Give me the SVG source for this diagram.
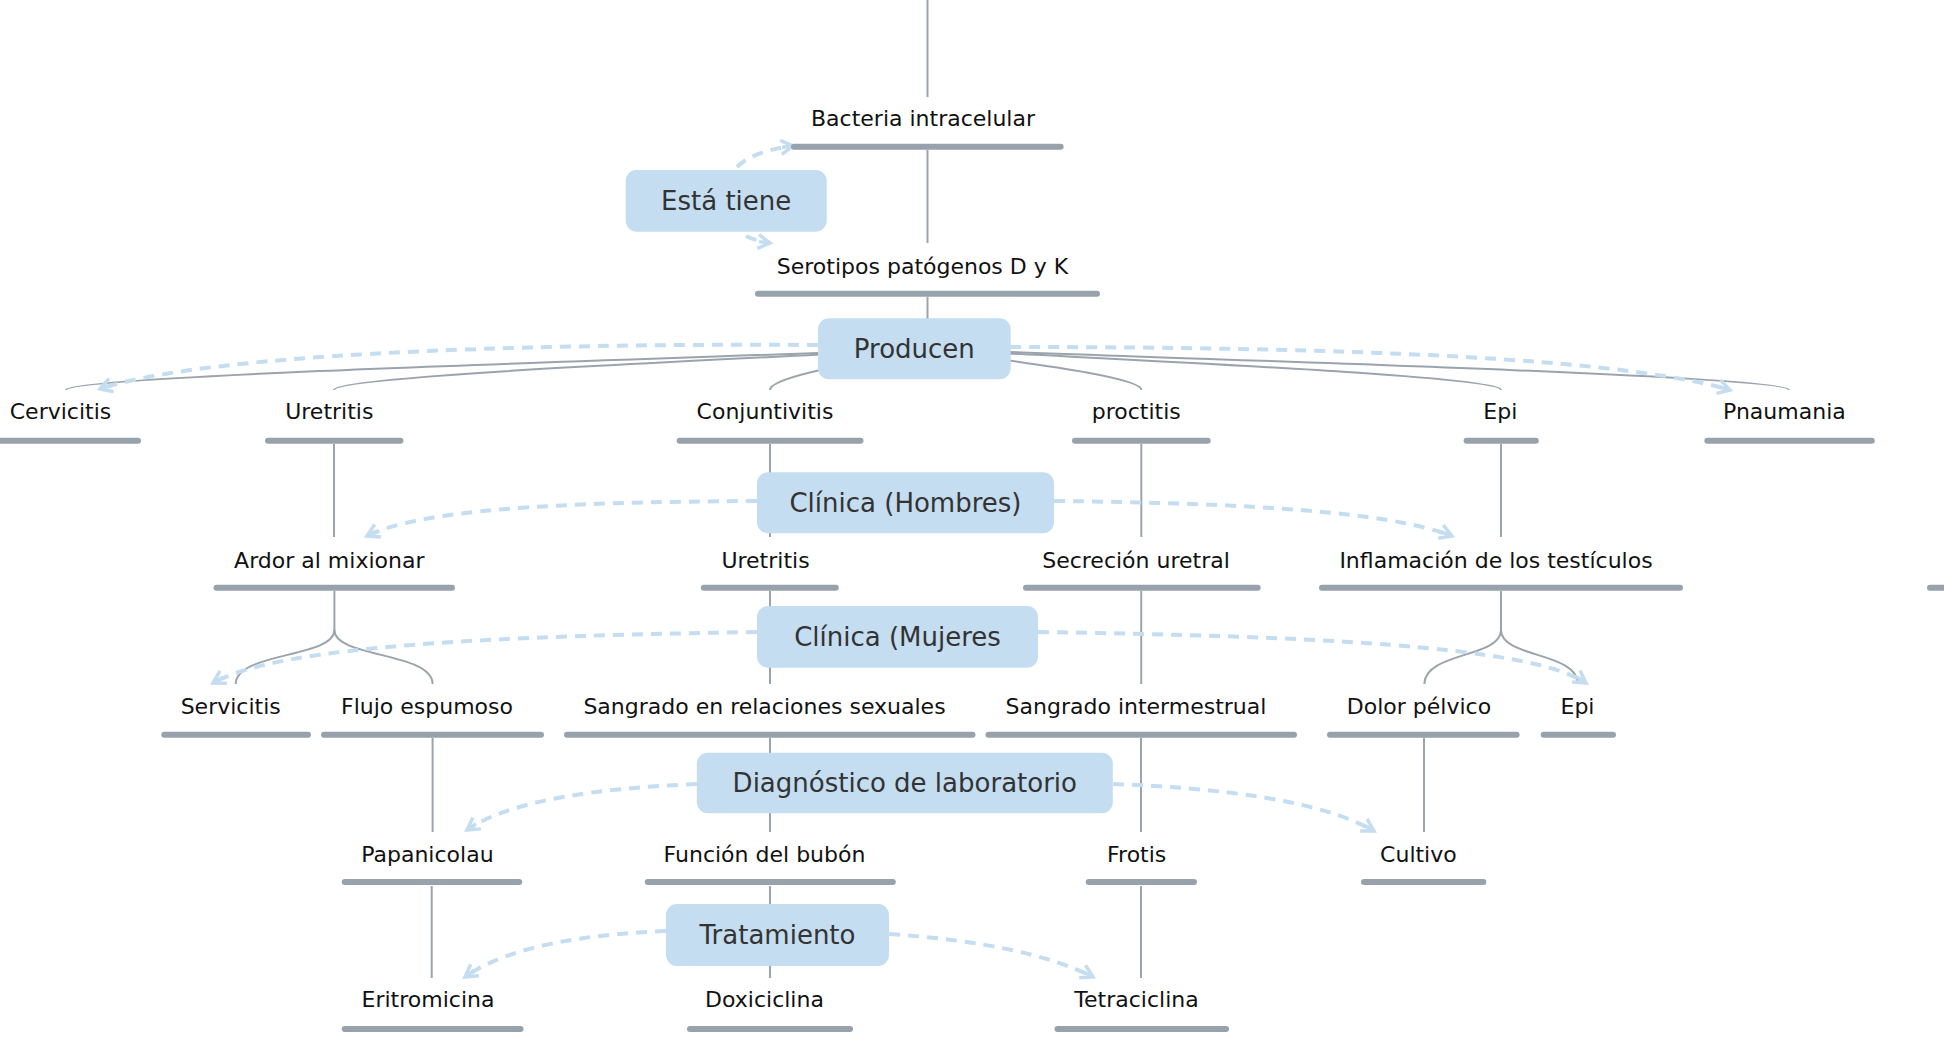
<svg xmlns="http://www.w3.org/2000/svg" width="1944" height="1040" viewBox="0 0 1944 1040">
<style>
.bg{fill:#ffffff}
.ln{fill:none;stroke:#9ba4ad;stroke-width:2}
.bar{stroke:#98a2ac;stroke-width:6;stroke-linecap:round}
.nt{font-family:"DejaVu Sans",Verdana,sans-serif;font-size:22px;fill:#111111;text-anchor:middle}
.lb rect{fill:#c4ddf0}
.lb text{font-family:"DejaVu Sans",Verdana,sans-serif;font-size:26px;fill:#333333;text-anchor:middle}
.da{fill:none;stroke:#c4ddf0;stroke-width:4;stroke-dasharray:11 8;marker-end:url(#ah)}
</style>
<defs>
<marker id="ah" viewBox="0 0 18 18" refX="15" refY="9" markerWidth="18" markerHeight="18" orient="auto" markerUnits="userSpaceOnUse">
<path d="M3,2 L15,9 L3,16 M15,9 L4,9" fill="none" stroke="#c4ddf0" stroke-width="3.5" stroke-linejoin="miter"/>
</marker>
</defs>
<rect class="bg" x="0" y="0" width="1944" height="1040"/>

<g id="connectors">
<path class="ln" d="M927.5 0 V97"/>
<path class="ln" d="M927.5 150 V243"/>
<path class="ln" d="M927.5 297 V349"/>
<path class="ln" d="M927.5 349 C703 358 66 375 66 390"/>
<path class="ln" d="M927.5 349 C773 358 334 375 334 390"/>
<path class="ln" d="M927.5 349 C886 358 770 375 770 390"/>
<path class="ln" d="M927.5 349 C983 358 1141.5 375 1141.5 390"/>
<path class="ln" d="M927.5 349 C1075 358 1501 375 1501 390"/>
<path class="ln" d="M927.5 349 C1150 358 1789 375 1789 390"/>
<path class="ln" d="M334 444 V537"/>
<path class="ln" d="M770 444 V537"/>
<path class="ln" d="M1141.3 444 V537"/>
<path class="ln" d="M1501 444 V537"/>
<path class="ln" d="M334.4 591 V630 C334.4 658 235.7 652 235.7 684"/>
<path class="ln" d="M334.4 630 C334.4 658 432.6 652 432.6 684"/>
<path class="ln" d="M770 591 V684"/>
<path class="ln" d="M1141.2 591 V684"/>
<path class="ln" d="M1501 591 V630 C1501 658 1424.4 652 1424.4 684"/>
<path class="ln" d="M1501 630 C1501 658 1578 652 1578 684"/>
<path class="ln" d="M432.6 738 V832"/>
<path class="ln" d="M770 738 V832"/>
<path class="ln" d="M1141 738 V832"/>
<path class="ln" d="M1424 738 V832"/>
<path class="ln" d="M431.7 886 V978"/>
<path class="ln" d="M770 886 V978"/>
<path class="ln" d="M1141 886 V978"/>

<path class="da" d="M737 167 C748 156 768 149 793 146"/>
<path class="da" d="M746 236 C754 240 762 242 770 243"/>
<path class="da" d="M818 345 C500 343 200 355 100 389"/>
<path class="da" d="M1010 347 C1350 347 1620 358 1730 390"/>
<path class="da" d="M757 501 C550 502 420 510 367 536"/>
<path class="da" d="M1054 501 C1250 503 1390 512 1452 536"/>
<path class="da" d="M757 632 C500 636 280 645 213 683"/>
<path class="da" d="M1038 632 C1300 636 1530 645 1586 683"/>
<path class="da" d="M697 784 C600 788 510 800 467 830"/>
<path class="da" d="M1113 784 C1220 788 1320 800 1374 831"/>
<path class="da" d="M666 931 C590 934 510 945 465 977"/>
<path class="da" d="M889 934 C980 940 1050 955 1093 977"/>
</g>

<g id="n-bacteria"><text class="nt" x="923" y="126">Bacteria intracelular</text><line class="bar" x1="794" y1="146.7" x2="1060.7" y2="146.7"/></g>
<g id="n-serotipos"><text class="nt" x="922.5" y="274">Serotipos patógenos D y K</text><line class="bar" x1="758" y1="293.7" x2="1097" y2="293.7"/></g>

<g id="n-cervicitis"><text class="nt" x="60.5" y="419.3">Cervicitis</text><line class="bar" x1="-6" y1="440.7" x2="138" y2="440.7"/></g>
<g id="n-uretritis1"><text class="nt" x="329.3" y="419.3">Uretritis</text><line class="bar" x1="268" y1="440.7" x2="400.4" y2="440.7"/></g>
<g id="n-conjuntivitis"><text class="nt" x="765" y="419.3">Conjuntivitis</text><line class="bar" x1="679.7" y1="440.7" x2="860.5" y2="440.7"/></g>
<g id="n-proctitis"><text class="nt" x="1136.3" y="419.3">proctitis</text><line class="bar" x1="1075" y1="440.7" x2="1207.7" y2="440.7"/></g>
<g id="n-epi1"><text class="nt" x="1500.3" y="419.3">Epi</text><line class="bar" x1="1466.6" y1="440.7" x2="1535.8" y2="440.7"/></g>
<g id="n-pnaumania"><text class="nt" x="1784.4" y="419.3">Pnaumania</text><line class="bar" x1="1707.4" y1="440.7" x2="1871.8" y2="440.7"/></g>

<g id="n-ardor"><text class="nt" x="329.3" y="567.5">Ardor al mixionar</text><line class="bar" x1="216.5" y1="587.7" x2="452" y2="587.7"/></g>
<g id="n-uretritis2"><text class="nt" x="765.5" y="567.5">Uretritis</text><line class="bar" x1="703.8" y1="587.7" x2="835.8" y2="587.7"/></g>
<g id="n-secrecion"><text class="nt" x="1136" y="567.5">Secreción uretral</text><line class="bar" x1="1026" y1="587.7" x2="1257.7" y2="587.7"/></g>
<g id="n-inflamacion"><text class="nt" x="1496" y="567.5">Inflamación de los testículos</text><line class="bar" x1="1322" y1="587.7" x2="1680" y2="587.7"/></g>
<g id="n-edge"><line class="bar" x1="1930" y1="587.7" x2="1952" y2="587.7"/></g>

<g id="n-servicitis"><text class="nt" x="230.7" y="713.5">Servicitis</text><line class="bar" x1="164.3" y1="734.7" x2="308" y2="734.7"/></g>
<g id="n-flujo"><text class="nt" x="427" y="713.5">Flujo espumoso</text><line class="bar" x1="324" y1="734.7" x2="541" y2="734.7"/></g>
<g id="n-sangrado-rel"><text class="nt" x="764.5" y="713.5">Sangrado en relaciones sexuales</text><line class="bar" x1="567" y1="734.7" x2="972.5" y2="734.7"/></g>
<g id="n-sangrado-int"><text class="nt" x="1136" y="713.5">Sangrado intermestrual</text><line class="bar" x1="988.5" y1="734.7" x2="1294" y2="734.7"/></g>
<g id="n-dolor"><text class="nt" x="1419" y="713.5">Dolor pélvico</text><line class="bar" x1="1330" y1="734.7" x2="1516.6" y2="734.7"/></g>
<g id="n-epi2"><text class="nt" x="1577.5" y="713.5">Epi</text><line class="bar" x1="1543.7" y1="734.7" x2="1613" y2="734.7"/></g>

<g id="n-papanicolau"><text class="nt" x="427.4" y="861.7">Papanicolau</text><line class="bar" x1="344.7" y1="882" x2="519.2" y2="882"/></g>
<g id="n-funcion"><text class="nt" x="764.5" y="861.7">Función del bubón</text><line class="bar" x1="647.8" y1="882" x2="892.8" y2="882"/></g>
<g id="n-frotis"><text class="nt" x="1136.7" y="861.7">Frotis</text><line class="bar" x1="1088.7" y1="882" x2="1194" y2="882"/></g>
<g id="n-cultivo"><text class="nt" x="1418.4" y="861.7">Cultivo</text><line class="bar" x1="1364" y1="882" x2="1483.4" y2="882"/></g>

<g id="n-eritromicina"><text class="nt" x="428" y="1006.7">Eritromicina</text><line class="bar" x1="344.7" y1="1029" x2="520.5" y2="1029"/></g>
<g id="n-doxiciclina"><text class="nt" x="764.5" y="1006.7">Doxiciclina</text><line class="bar" x1="690" y1="1029" x2="850" y2="1029"/></g>
<g id="n-tetraciclina"><text class="nt" x="1136.5" y="1006.7">Tetraciclina</text><line class="bar" x1="1057.5" y1="1029" x2="1226" y2="1029"/></g>

<g id="l-esta" class="lb"><rect x="625.7" y="170" width="201" height="61.7" rx="11"/><text x="726.2" y="210">Está tiene</text></g>
<g id="l-producen" class="lb"><rect x="818" y="318.3" width="192.7" height="61" rx="11"/><text x="914.3" y="358">Producen</text></g>
<g id="l-hombres" class="lb"><rect x="757" y="472.3" width="297" height="61" rx="11"/><text x="905.5" y="512">Clínica (Hombres)</text></g>
<g id="l-mujeres" class="lb"><rect x="757" y="606" width="281" height="61.7" rx="11"/><text x="897.5" y="646">Clínica (Mujeres</text></g>
<g id="l-diagnostico" class="lb"><rect x="696.8" y="752.7" width="416" height="60.6" rx="11"/><text x="904.8" y="792">Diagnóstico de laboratorio</text></g>
<g id="l-tratamiento" class="lb"><rect x="666" y="904" width="223" height="62" rx="11"/><text x="777.5" y="944">Tratamiento</text></g>
</svg>
